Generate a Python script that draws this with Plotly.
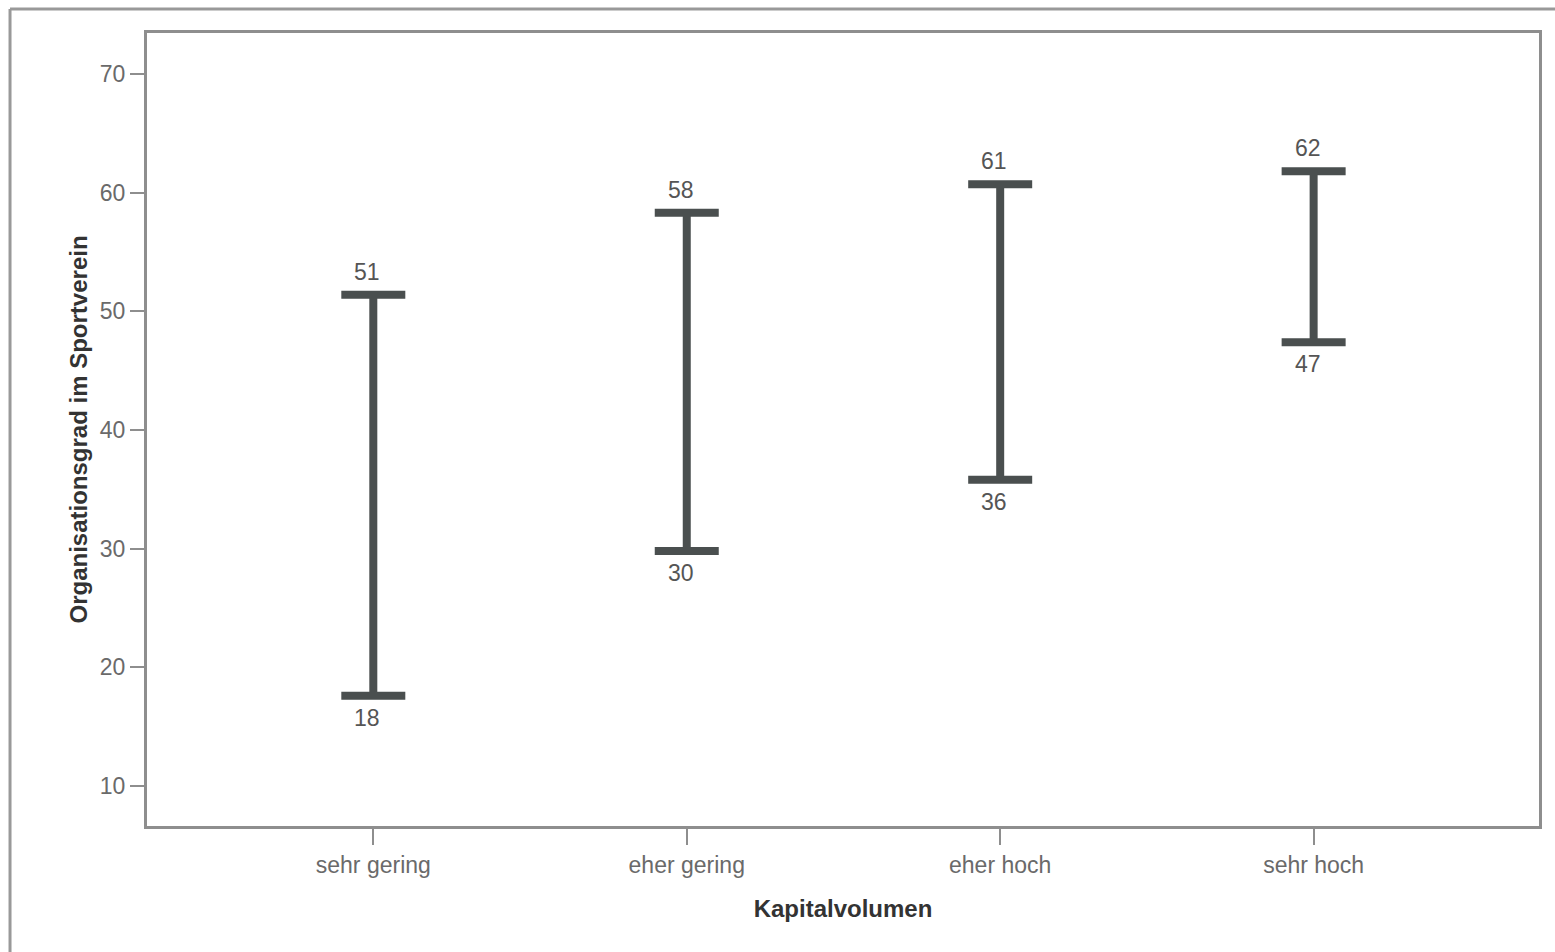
import plotly.graph_objects as go

# Kapitalvolumen groups and the range of Organisationsgrad im Sportverein
categories = ["sehr gering", "eher gering", "eher hoch", "sehr hoch"]
upper = [51.4, 58.3, 60.7, 61.8]
lower = [17.6, 29.8, 35.8, 47.4]
upper_labels = ["51", "58", "61", "62"]
lower_labels = ["18", "30", "36", "47"]
y_ticks = [10, 20, 30, 40, 50, 60, 70]

bar_color = "#4a4f4f"
axis_color = "#8e8e8e"
tick_font = dict(family="Liberation Sans, Arial, sans-serif", size=23, color="#6a6a6a")
title_font = dict(family="Liberation Sans, Arial, sans-serif", size=24, color="#333333")

xpos = list(range(len(categories)))

fig = go.Figure()

# Vertical range bars with caps at both ends
fig.add_trace(go.Scatter(
    x=xpos,
    y=lower,
    mode="markers",
    marker=dict(size=1, color="rgba(0,0,0,0)"),
    error_y=dict(
        type="data",
        symmetric=False,
        array=[u - l for u, l in zip(upper, lower)],
        arrayminus=[0] * len(lower),
        color=bar_color,
        thickness=8,
        width=32,
    ),
    showlegend=False,
    hoverinfo="skip",
))

annotations = []
for x, u, l, ut, lt in zip(xpos, upper, lower, upper_labels, lower_labels):
    annotations.append(dict(x=x, y=u, text=ut, showarrow=False, xshift=-6, yshift=23,
                            font=dict(family=tick_font["family"], size=23, color="#555555")))
    annotations.append(dict(x=x, y=l, text=lt, showarrow=False, xshift=-6, yshift=-22,
                            font=dict(family=tick_font["family"], size=23, color="#555555")))

fig.update_layout(
    width=1555,
    height=952,
    margin=dict(l=147, r=16, t=33, b=126),
    paper_bgcolor="white",
    plot_bgcolor="white",
    annotations=annotations,
    shapes=[
        # outer frame (left and top edges)
        dict(type="line", xref="paper", yref="paper",
             x0=-0.0984, x1=1.05, y0=1.0303, y1=1.0303,
             line=dict(color="#999999", width=3)),
        dict(type="line", xref="paper", yref="paper",
             x0=-0.0984, x1=-0.0984, y0=1.0303, y1=-0.2,
             line=dict(color="#999999", width=3)),
    ],
)

fig.update_xaxes(
    range=[-0.722, 3.719],
    tickmode="array",
    tickvals=xpos,
    ticktext=categories,
    ticks="outside",
    ticklen=16,
    tickwidth=2,
    tickcolor=axis_color,
    tickfont=tick_font,
    showgrid=False,
    zeroline=False,
    showline=True,
    linecolor=axis_color,
    linewidth=3,
    mirror=True,
    title=dict(text="<b>Kapitalvolumen</b>", font=title_font, standoff=24),
)

fig.update_yaxes(
    range=[6.63, 73.45],
    tickmode="array",
    tickvals=y_ticks,
    ticks="outside",
    ticklen=14,
    tickwidth=2,
    tickcolor=axis_color,
    tickfont=tick_font,
    showgrid=False,
    zeroline=False,
    showline=True,
    linecolor=axis_color,
    linewidth=3,
    mirror=True,
    title=dict(text="<b>Organisationsgrad im Sportverein</b>", font=title_font, standoff=6),
)

fig.write_html("out.html")
